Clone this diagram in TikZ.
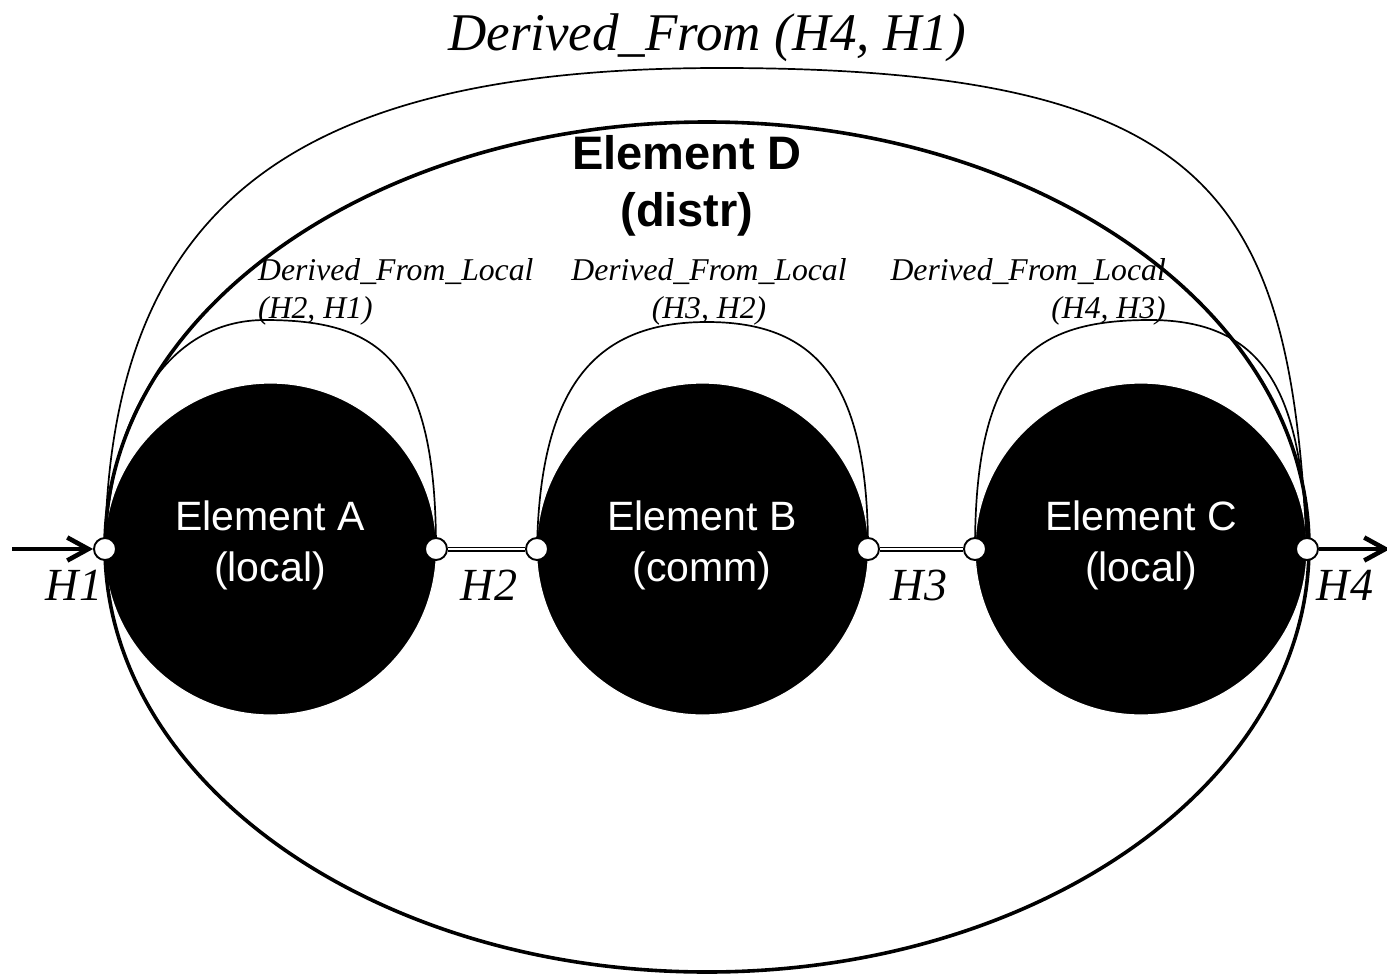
\documentclass[tikz,border=0pt]{standalone}
\usepackage{fontspec}
\setmainfont{Liberation Serif}
\newfontfamily\arialfamily{Liberation Sans}
\usetikzlibrary{arrows.meta,shapes.geometric}
\begin{document}
\begin{tikzpicture}[x=1pt,y=-1pt,
  element/.style={circle, fill=black, draw=white, line width=1.2pt, minimum size=332pt, inner sep=0pt},
  eltext/.style={text=white, align=center, inner sep=0pt, font=\arialfamily\fontsize{41}{51}\selectfont},
  port/.style={circle, fill=white, draw=black, line width=1.9pt, minimum size=22pt, inner sep=0pt},
  hname/.style={anchor=base, inner sep=0pt, font=\itshape\fontsize{46}{50}\selectfont},
  rel/.style={inner sep=0pt, font=\itshape\fontsize{31.7}{38}\selectfont},
  relarc/.style={line width=1.7pt},
  link/.style={double, double distance=1.8pt, line width=1.6pt},
  flow/.style={line width=4.6pt, -{Straight Barb[length=21pt,width=23pt]}},
]
\useasboundingbox (0,0) rectangle (1387,977);

% the three elements
\node[element] (A) at (270.5,549) {};
\node[element] (B) at (702.5,549) {};
\node[element] (C) at (1141,549) {};

% hook points on the element borders
\coordinate (H1) at (105,549);
\coordinate (H2) at (436,549);
\coordinate (B1) at (537,549);
\coordinate (B2) at (868,549);
\coordinate (C1) at (975,549);
\coordinate (H4) at (1307,549);

% Element D encloses the chain
\node[ellipse, draw, line width=3.6pt, minimum width=1204pt, minimum height=850pt, inner sep=0pt] (D) at (707,547) {};

% Derived_From relation over the whole chain
\coordinate (topD) at (720,68);
\draw[relarc] (H1) .. controls +(5,-349) and +(-420,0) .. (topD)
                   .. controls +(500,0) and +(-17,-349) .. (H4);

% Derived_From_Local relations
\coordinate (topA) at (265,320);
\coordinate (topB) at (707,322);
\coordinate (topC) at (1150,320);
\draw[relarc] (H1) .. controls +(5,-129) and +(-100,0) .. (topA)
                   .. controls +(115,0) and +(0,-189) .. (H2);
\draw[relarc] (B1) .. controls +(3,-169) and +(-107,0) .. (topB)
                   .. controls +(108,0) and +(0,-169) .. (B2);
\draw[relarc] (C1) .. controls +(0,-189) and +(-115,0) .. (topC)
                   .. controls +(120,0) and +(-5,-149) .. (H4);

% ports
\foreach \p in {H1,H2,B1,B2,C1,H4} \node[port] (p\p) at (\p) {};

% links between elements
\draw[link] (pH2) -- (pB1);
\draw[link] (pB2) -- (pC1);

% input and output flow
\coordinate (in) at (12,549);
\coordinate (out) at (1390,549);
\draw[flow] (in) -- (pH1);
\draw[flow] (pH4) -- (out);

% element names
\node[eltext] (tA) at (270,545) {Element A\\(local)};
\node[eltext] (tB) at (702,545) {Element B\\(comm)};
\node[eltext] (tC) at (1141,545) {Element C\\(local)};
\node[align=center, inner sep=0pt, font=\arialfamily\bfseries\fontsize{47}{57}\selectfont] (tD) at (687,186) {Element D\\(distr)};

% relation names
\node[rel, align=left, anchor=west] (r1) at (258,292) {Derived\_From\_Local\\(H2, H1)};
\node[rel, align=center] (r2) at (709,292) {Derived\_From\_Local\\(H3, H2)};
\node[rel, align=right, anchor=east] (r3) at (1166,292) {Derived\_From\_Local\\(H4, H3)};
\node[anchor=base, inner sep=0pt, font=\itshape\fontsize{53}{60}\selectfont] (rTop) at (707,50) {Derived\_From (H4, H1)};

% port names
\node[hname] (nH1) at (74,600) {H1};
\node[hname] (nH2) at (489,600) {H2};
\node[hname] (nH3) at (919,600) {H3};
\node[hname] (nH4) at (1345,600) {H4};
\end{tikzpicture}
\end{document}
